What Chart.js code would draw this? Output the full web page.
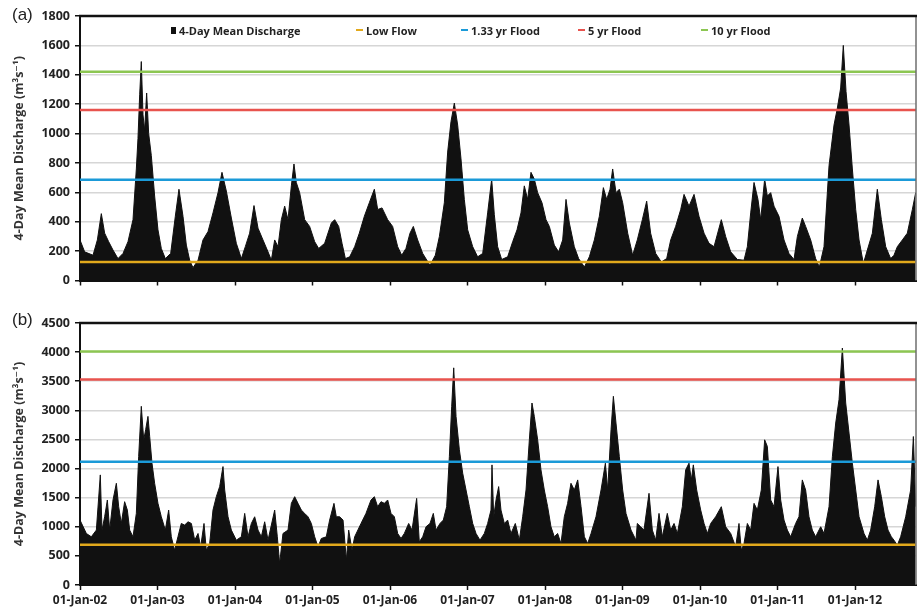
<!DOCTYPE html>
<html>
<head>
<meta charset="utf-8">
<script src="https://cdn.jsdelivr.net/npm/chart.js@4.4.1/dist/chart.umd.min.js"></script>
<style>
  body { margin: 0; background: #fff; }
  #wrap { position: relative; width: 923px; height: 610px; }
  canvas { position: absolute; left: 0; }
  #chartA { top: 0; }
  #chartB { top: 300px; }
  .tag { position: absolute; left: 12px; font: 17px "Liberation Sans", Arial, sans-serif; color: #222; }
  #legend { position: absolute; left: 171px; top: 22px; height: 16px; display: flex; align-items: center;
    font: bold 11px 'Open Sans', 'DejaVu Sans', sans-serif; color: #222; white-space: nowrap; }
  #legend .item { display: flex; align-items: center; }
  #legend .key { display: inline-block; margin-right: 3px; }
</style>
</head>
<body>
<div id="wrap">
  <canvas id="chartA" width="923" height="293"></canvas>
  <canvas id="chartB" width="923" height="310"></canvas>
  <div class="tag" style="top:5px">(a)</div>
  <div class="tag" style="top:310px">(b)</div>
  <div id="legend"></div>
</div>
<script>
// time axis in decimal years, record runs 1 Jan 2002 to mid Oct 2012
const recordRange = [2002, 2012.787];
const yearTicks = [2002, 2003, 2004, 2005, 2006, 2007, 2008, 2009, 2010, 2011, 2012];
const tickLabels = ["01-Jan-02", "01-Jan-03", "01-Jan-04", "01-Jan-05", "01-Jan-06", "01-Jan-07",
  "01-Jan-08", "01-Jan-09", "01-Jan-10", "01-Jan-11", "01-Jan-12"];
const seriesNames = ["4-Day Mean Discharge", "Low Flow", "1.33 yr Flood", "5 yr Flood", "10 yr Flood"];

// panel (a)
const thresholdsA = [126, 685, 1160, 1420];
const yearsA = [
  2002.000,2002.060,2002.168,2002.224,2002.275,2002.318,2002.370,2002.426,2002.490,2002.555,
  2002.619,2002.684,2002.727,2002.748,2002.770,2002.791,2002.813,2002.834,2002.860,2002.886,
  2002.920,2002.963,2003.006,2003.049,2003.101,2003.170,2003.230,2003.277,2003.329,2003.372,
  2003.415,2003.458,2003.523,2003.587,2003.652,2003.716,2003.781,2003.832,2003.888,2003.953,
  2004.017,2004.082,2004.133,2004.189,2004.245,2004.297,2004.361,2004.426,2004.469,2004.512,
  2004.555,2004.598,2004.641,2004.684,2004.727,2004.761,2004.791,2004.834,2004.899,2004.963,
  2005.028,2005.080,2005.157,2005.243,2005.286,2005.338,2005.381,2005.424,2005.480,2005.544,
  2005.604,2005.669,2005.733,2005.798,2005.841,2005.897,2005.970,2006.034,2006.099,2006.151,
  2006.206,2006.258,2006.301,2006.357,2006.422,2006.516,2006.585,2006.637,2006.701,2006.744,
  2006.787,2006.830,2006.873,2006.916,2006.959,2007.002,2007.067,2007.131,2007.196,2007.260,
  2007.312,2007.346,2007.389,2007.441,2007.518,2007.583,2007.639,2007.690,2007.733,2007.776,
  2007.819,2007.862,2007.905,2007.961,2008.013,2008.056,2008.120,2008.176,2008.228,2008.271,
  2008.314,2008.378,2008.434,2008.508,2008.572,2008.637,2008.701,2008.753,2008.796,2008.839,
  2008.873,2008.916,2008.959,2009.002,2009.067,2009.131,
  2009.191,2009.256,2009.312,2009.363,2009.428,2009.501,2009.570,2009.622,2009.686,2009.751,
  2009.794,2009.858,2009.923,2009.987,2010.052,2010.116,2010.181,2010.275,2010.331,2010.396,
  2010.482,2010.568,2010.611,2010.654,2010.697,2010.748,2010.783,2010.834,2010.869,2010.912,
  2010.955,2011.019,2011.084,2011.148,2011.213,2011.256,2011.320,2011.363,2011.428,2011.492,
  2011.540,2011.600,2011.665,2011.729,2011.772,2011.815,2011.849,2011.884,2011.923,2011.966,
  2012.009,2012.052,2012.108,2012.159,2012.224,2012.288,2012.340,2012.396,2012.460,2012.503,
  2012.546,2012.611,2012.675,2012.740,2012.783
];
const flowA = [
  276,195,172,276,455,322,264,207,149,184,
  264,414,759,966,1264,1490,1127,1023,1276,1000,
  851,575,345,218,149,184,437,621,437,241,
  138,87,138,276,333,460,598,736,609,425,
  253,149,230,322,510,356,276,195,138,276,
  230,414,506,414,644,793,667,598,414,368,
  264,218,253,391,414,368,253,149,161,230,
  322,437,529,621,483,494,414,368,230,172,
  218,322,368,276,184,103,172,299,529,874,
  1081,1207,1058,828,552,345,230,161,184,460,
  690,448,230,143,161,264,345,460,644,552,
  736,690,598,529,414,368,241,195,276,552,
  391,230,149,92,161,276,437,632,552,621,
  759,598,621,529,322,172,
  276,414,540,322,184,126,149,276,368,483,
  586,506,586,437,322,253,230,414,299,195,
  143,138,230,460,667,552,414,690,575,598,
  506,437,276,184,143,299,425,368,276,149,
  92,230,782,1058,1172,1310,1600,1287,1058,759,
  483,276,115,207,322,621,414,230,149,172,
  230,276,322,483,598
];

// panel (b)
const thresholdsB = [690, 2115, 3530, 4010];
const yearsB = [
  2002.000,2002.082,2002.146,2002.211,2002.262,2002.284,2002.318,2002.353,2002.383,2002.426,
  2002.469,2002.499,2002.533,2002.576,2002.611,2002.641,2002.684,2002.727,2002.757,2002.791,
  2002.822,2002.847,2002.877,2002.899,2002.929,2002.963,2003.006,2003.049,2003.101,2003.144,
  2003.178,2003.221,2003.264,2003.307,2003.350,2003.394,2003.437,2003.480,2003.523,2003.557,
  2003.600,2003.630,2003.673,2003.716,2003.759,2003.802,2003.845,2003.867,2003.910,2003.953,
  2004.017,2004.082,2004.125,2004.168,2004.211,2004.254,2004.297,2004.340,2004.383,2004.426,
  2004.512,2004.546,2004.576,2004.619,2004.684,2004.727,2004.770,2004.813,2004.856,2004.899,
  2004.942,2004.985,2005.028,2005.071,2005.114,2005.178,2005.221,2005.277,2005.307,2005.350,
  2005.394,2005.437,2005.467,2005.510,2005.544,
  2005.626,2005.690,2005.755,2005.798,2005.841,2005.884,2005.927,2005.970,2006.013,2006.056,
  2006.099,2006.142,2006.185,2006.241,2006.284,2006.344,2006.378,2006.422,2006.465,2006.516,
  2006.559,2006.594,2006.645,2006.688,2006.731,2006.766,2006.796,2006.822,2006.852,2006.895,
  2006.938,2006.981,2007.024,2007.067,2007.110,2007.161,2007.217,2007.260,2007.303,2007.316,
  2007.338,2007.368,2007.402,2007.432,2007.475,2007.518,2007.561,2007.617,2007.669,2007.712,
  2007.755,2007.798,2007.832,2007.862,2007.905,2007.948,2007.991,2008.034,2008.077,2008.120,
  2008.163,2008.206,2008.249,2008.292,2008.335,2008.378,2008.422,2008.465,2008.508,2008.551,
  2008.594,2008.658,2008.723,2008.779,2008.809,2008.852,2008.882,2008.916,2008.959,2009.002,
  2009.045,2009.110,2009.174,
  2009.191,2009.234,2009.277,2009.342,2009.385,2009.428,2009.471,2009.514,2009.578,2009.622,
  2009.665,2009.708,2009.772,2009.815,2009.858,2009.888,2009.914,2009.957,2010.009,2010.052,
  2010.095,2010.138,2010.202,2010.275,2010.331,2010.396,2010.460,2010.503,2010.533,2010.568,
  2010.611,2010.654,2010.697,2010.740,2010.791,2010.834,2010.869,2010.912,2010.955,2011.006,
  2011.041,2011.084,2011.127,2011.170,2011.234,2011.277,2011.320,2011.363,2011.406,2011.449,
  2011.492,2011.557,2011.600,2011.665,2011.708,2011.751,2011.794,2011.837,2011.880,2011.923,
  2011.966,2012.009,2012.052,2012.116,2012.159,2012.202,2012.254,2012.297,2012.340,2012.383,
  2012.426,2012.469,2012.503,2012.546,2012.589,2012.654,2012.718,2012.753,2012.783
];
const flowB = [
  1115,885,828,943,1891,943,1172,1460,943,1460,
  1747,1345,1057,1431,1287,943,828,1230,2207,3069,
  2494,2667,2896,2552,2092,1747,1402,1172,943,1287,
  828,598,828,1057,1029,1086,1057,770,885,655,
  1057,598,713,1287,1517,1690,2034,1632,1172,943,
  770,828,1230,828,1057,1172,943,828,1086,770,
  1287,828,368,885,943,1402,1517,1402,1287,1230,
  1172,1057,828,655,799,828,1115,1402,1172,1172,
  1115,425,943,598,828,
  1057,1230,1460,1517,1345,1431,1402,1460,1230,1172,
  885,799,885,1057,943,1488,741,828,1000,1057,
  1230,943,1057,1115,1345,2207,3069,3730,2896,2322,
  1920,1632,1345,1057,885,770,885,1057,1287,2063,
  1172,1460,1690,1287,1057,1115,885,1057,770,1172,
  1632,2494,3126,2896,2494,1977,1632,1345,1000,828,
  885,713,1172,1402,1747,1632,1805,1345,828,713,
  885,1172,1632,2092,1632,2667,3241,2782,2207,1632,
  1230,943,770,
  1057,1000,943,1575,943,770,1230,828,1230,943,
  1057,885,1345,1977,2092,1805,2063,1632,1287,1057,
  885,1057,1172,1345,1000,885,655,1057,598,713,
  1057,943,1402,1287,1632,2494,2380,1460,1345,2034,
  1460,1115,943,828,1057,1172,1805,1632,1172,943,
  828,1000,885,1345,2207,2782,3184,4070,3126,2609,
  2092,1632,1172,885,770,943,1345,1805,1517,1172,
  943,828,770,684,828,1172,1632,2550,1345
];

const lineColors = ["#e2a91c", "#1b9ad8", "#e8534e", "#8cc652"];
const fontFam = "'Open Sans', 'DejaVu Sans', sans-serif";

// legend row above panel (a), Excel style spacing
const legendWidths = [185, 105, 117, 123, 80];
const legendEl = document.getElementById("legend");
seriesNames.forEach((name, i) => {
  const item = document.createElement("span");
  item.className = "item";
  item.style.width = legendWidths[i] + "px";
  const key = document.createElement("span");
  key.className = "key";
  if (i === 0) {
    key.style.cssText = "width:5px;height:7px;background:#111;";
  } else {
    key.style.cssText = "width:7px;height:2.5px;background:" + lineColors[i - 1] + ";";
  }
  item.appendChild(key);
  item.appendChild(document.createTextNode(name));
  legendEl.appendChild(item);
});

// plot frame: black top edge, grey right edge
const framePlugin = {
  id: "frame",
  afterDatasetsDraw(chart) {
    const { ctx, chartArea: a } = chart;
    ctx.save();
    ctx.strokeStyle = "#6e6e6e";
    ctx.lineWidth = 1.5;
    ctx.beginPath();
    ctx.moveTo(a.right, a.top);
    ctx.lineTo(a.right, a.bottom);
    ctx.stroke();
    ctx.strokeStyle = "#111";
    ctx.lineWidth = 2.5;
    ctx.beginPath();
    ctx.moveTo(a.left - 1, a.top);
    ctx.lineTo(a.right + 1, a.top);
    ctx.stroke();
    ctx.restore();
  },
};

function makePanel(id, years, flows, thresholds, yMax, yStep, opts) {
  const datasets = [
    {
      label: seriesNames[0],
      data: years.map((x, i) => ({ x: x, y: flows[i] })),
      borderColor: "#111",
      backgroundColor: "#111",
      borderWidth: 1,
      fill: "origin",
      pointRadius: 0,
      tension: 0,
      order: 10,
    },
  ];
  thresholds.forEach((v, i) => {
    datasets.push({
      label: seriesNames[i + 1],
      data: [{ x: recordRange[0], y: v }, { x: recordRange[1], y: v }],
      borderColor: lineColors[i],
      borderWidth: 2.5,
      fill: false,
      pointRadius: 0,
      order: 1,
    });
  });

  return new Chart(document.getElementById(id), {
    type: "line",
    data: { datasets },
    plugins: [framePlugin],
    options: {
      responsive: false,
      animation: false,
      devicePixelRatio: 1,
      layout: { padding: { left: 12, right: 7, top: opts.padTop, bottom: 0 } },
      plugins: {
        tooltip: { enabled: false },
        legend: { display: false },
      },
      scales: {
        x: {
          type: "linear",
          min: recordRange[0],
          max: recordRange[1],
          afterBuildTicks: (s) => {
            s.ticks = yearTicks.map((v) => ({ value: v }));
          },
          afterFit: (s) => {
            s.height = opts.xHeight;
          },
          ticks: {
            display: opts.xLabels,
            autoSkip: false,
            maxRotation: 0,
            padding: 3,
            color: "#222",
            font: { family: fontFam, weight: "bold", size: 12 },
            callback: (v, i) => tickLabels[i],
          },
          grid: { drawOnChartArea: false, drawTicks: true, tickLength: 5, tickColor: "#111", tickWidth: 1.5 },
          border: { color: "#111", width: 2 },
        },
        y: {
          min: 0,
          max: yMax,
          afterFit: (s) => {
            s.width = 68;
          },
          ticks: {
            stepSize: yStep,
            padding: 5,
            color: "#222",
            font: { family: fontFam, weight: "bold", size: 12.5 },
            callback: (v) => String(v),
          },
          grid: { color: "#d6d6d6", lineWidth: 1.5, tickLength: 5, tickColor: "#111", tickWidth: 1.5 },
          border: { color: "#111", width: 2 },
          title: {
            display: true,
            text: "4-Day Mean Discharge (m³s⁻¹)",
            color: "#333",
            padding: { top: 0, bottom: 0 },
            font: { family: fontFam, weight: "bold", size: 12.5 },
          },
        },
      },
    },
  });
}

makePanel("chartA", yearsA, flowA, thresholdsA, 1800, 200, { padTop: 16, xHeight: 6, xLabels: false });
makePanel("chartB", yearsB, flowB, thresholdsB, 4500, 500, { padTop: 23, xHeight: 25, xLabels: true });
</script>
</body>
</html>
